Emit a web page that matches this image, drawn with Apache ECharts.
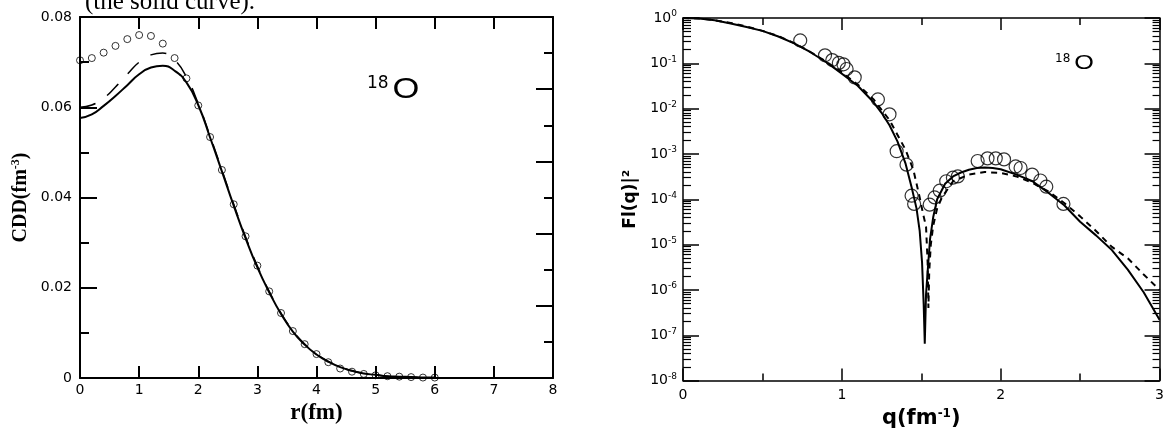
<!DOCTYPE html>
<html>
<head>
<meta charset="UTF-8">
<title>18O charge density and form factor</title>
<script src="https://cdn.jsdelivr.net/npm/echarts@6/dist/echarts.min.js"></script>
<style>
  html, body {margin: 0; width: 100%; height: 100%; background: #fff;}
  #chart {width: 1167px; height: 434px;}
</style>
</head>
<body>
<div id="chart"></div>
<script>
// left panel: charge density distribution vs r (fm)
const rValues = [0, 0.2, 0.4, 0.6, 0.8, 1.0, 1.2, 1.4, 1.6, 1.8, 2.0, 2.2, 2.4, 2.6, 2.8, 3.0,
  3.2, 3.4, 3.6, 3.8, 4.0, 4.2, 4.4, 4.6, 4.8, 5.0, 5.2, 5.4, 5.6, 5.8, 6.0];
const cddCircles = [0.0704, 0.0709, 0.0721, 0.0736, 0.0751, 0.0760, 0.0758, 0.0741, 0.0709, 0.0664,
  0.0604, 0.0534, 0.0461, 0.0385, 0.0314, 0.0249, 0.0192, 0.0144, 0.0104, 0.0075, 0.0053,
  0.0035, 0.0021, 0.0014, 0.0009, 0.0006, 0.0004, 0.0003, 0.0002, 0.0001, 0.0001];
const cddSolid = [0.0576, 0.0584, 0.0603, 0.0625, 0.0649, 0.0673, 0.0688, 0.0692, 0.0681, 0.0655,
  0.0605, 0.0533, 0.0458, 0.0382, 0.0310, 0.0245, 0.0190, 0.0142, 0.0103, 0.0074, 0.0052,
  0.0036, 0.0024, 0.0016, 0.0010, 0.0007, 0.0004, 0.0003, 0.0002, 0.0001, 0.0001];
const cddDashed = [0.0600, 0.0605, 0.0620, 0.0645, 0.0673, 0.0700, 0.0716, 0.0720, 0.0705, 0.0667,
  0.0608, 0.0536, 0.0461, 0.0385, 0.0313, 0.0248, 0.0192, 0.0144, 0.0105, 0.0075, 0.0053,
  0.0037, 0.0025, 0.0016, 0.0010, 0.0007, 0.0004, 0.0003, 0.0002, 0.0001, 0.0001];

// right panel: |F(q)|^2 vs q (fm^-1)
const qSolid = [0, 0.1, 0.2, 0.3, 0.4, 0.5, 0.6, 0.7, 0.8, 0.9, 1.0, 1.1, 1.2, 1.25, 1.3, 1.35,
  1.4, 1.44, 1.47, 1.49, 1.505, 1.515, 1.522, 1.53, 1.54, 1.555, 1.575, 1.6, 1.65, 1.7, 1.75,
  1.8, 1.85, 1.9, 1.95, 2.0, 2.1, 2.2, 2.3, 2.4, 2.5, 2.6, 2.7, 2.8, 2.9, 3.0];
const ffSolid = [1, 0.98, 0.89, 0.76, 0.63, 0.52, 0.39, 0.275, 0.178, 0.107, 0.059, 0.032,
  0.0138, 0.0081, 0.0043, 0.0019, 6.3e-4, 1.8e-4, 6.3e-5, 2e-5, 4e-6, 5e-7, 6.5e-8, 8e-7,
  2.5e-6, 1.3e-5, 4e-5, 1e-4, 2.2e-4, 3.2e-4, 3.9e-4, 4.5e-4, 4.9e-4, 5e-4, 4.9e-4, 4.6e-4,
  3.5e-4, 2.5e-4, 1.4e-4, 7.4e-5, 3.2e-5, 1.6e-5, 7.6e-6, 2.8e-6, 8.9e-7, 2.2e-7];
const qDashed = [0, 0.1, 0.2, 0.3, 0.4, 0.5, 0.6, 0.7, 0.8, 0.9, 1.0, 1.1, 1.2, 1.3, 1.4, 1.45,
  1.49, 1.51, 1.53, 1.54, 1.545, 1.55, 1.56, 1.575, 1.6, 1.63, 1.7, 1.8, 1.9, 2.0, 2.1, 2.2,
  2.3, 2.4, 2.5, 2.6, 2.7, 2.8, 2.9, 3.0];
const ffDashed = [1, 0.98, 0.89, 0.78, 0.65, 0.52, 0.40, 0.28, 0.18, 0.11, 0.063, 0.034, 0.016,
  0.0056, 1.26e-3, 4.5e-4, 1.1e-4, 5e-5, 2.5e-5, 4e-6, 4e-7, 2.5e-6, 1e-5, 2.6e-5, 6.3e-5,
  1.1e-4, 2.5e-4, 3.5e-4, 4e-4, 3.8e-4, 3.2e-4, 2.3e-4, 1.5e-4, 8.3e-5, 4.2e-5, 2e-5, 8.9e-6,
  5e-6, 2.2e-6, 1e-6];
const qExp = [0.738, 0.894, 0.94, 0.981, 1.01, 1.03, 1.081, 1.227, 1.30, 1.345, 1.407, 1.439,
  1.455, 1.553, 1.584, 1.616, 1.657, 1.699, 1.73, 1.855, 1.917, 1.969, 2.021, 2.094, 2.125,
  2.198, 2.25, 2.287, 2.395];
const ffExp = [0.32, 0.15, 0.118, 0.102, 0.095, 0.075, 0.049, 0.016, 0.0075, 1.15e-3, 5.8e-4,
  1.2e-4, 7.9e-5, 7.6e-5, 1.1e-4, 1.55e-4, 2.5e-4, 3e-4, 3.2e-4, 7e-4, 8e-4, 8e-4, 7.6e-4,
  5.3e-4, 4.9e-4, 3.5e-4, 2.6e-4, 1.9e-4, 7.9e-5];

function pairs(xs, ys) {
  return xs.map(function (x, i) { return [x, ys[i]]; });
}

const serif = '"Liberation Serif", "Times New Roman", serif';
const sans = '"Liberation Sans", Arial, sans-serif';
const wide = '"DejaVu Sans", sans-serif';

function frame(width) {
  return {
    onZero: false,
    lineStyle: {color: '#000', width: width}
  };
}
function ticks(len, width) {
  return {inside: true, length: len, lineStyle: {color: '#000', width: width}};
}

const chart = echarts.init(document.getElementById('chart'));
chart.setOption({
  animation: false,
  grid: [
    {left: 80, top: 17, width: 473, height: 361},
    {left: 683, top: 18, width: 480, height: 371}
  ],
  xAxis: [
    {
      gridIndex: 0, type: 'value', position: 'bottom', min: 0, max: 8, interval: 1,
      axisLine: frame(2), axisTick: ticks(12, 2), splitLine: {show: false},
      axisLabel: {margin: 5, color: '#000', fontSize: 14, fontFamily: wide},
      name: 'r(fm)', nameLocation: 'middle', nameGap: 22,
      nameTextStyle: {fontFamily: serif, fontWeight: 'bold', fontSize: 23, color: '#000'}
    },
    {
      gridIndex: 0, type: 'value', position: 'top', min: 0, max: 8, interval: 1,
      axisLine: frame(2), axisTick: ticks(12, 2), splitLine: {show: false},
      axisLabel: {show: false}
    },
    {
      gridIndex: 1, type: 'value', position: 'bottom', min: 0, max: 3, interval: 1,
      axisLine: frame(1.5), axisTick: ticks(12, 1.5), splitLine: {show: false},
      minorTick: {show: true, splitNumber: 2, length: 7, lineStyle: {color: '#000', width: 1.5}},
      axisLabel: {margin: 8, color: '#000', fontSize: 14, fontFamily: wide},
      name: '{a|q(fm}{s|-1}{a|)}', nameLocation: 'middle', nameGap: 17,
      nameTextStyle: {
        rich: {
          a: {fontFamily: wide, fontWeight: 'bold', fontSize: 21, color: '#000'},
          s: {fontFamily: wide, fontWeight: 'bold', fontSize: 12, color: '#000', padding: [0, 0, 10, 0]}
        }
      }
    },
    {
      gridIndex: 1, type: 'value', position: 'top', min: 0, max: 3, interval: 1,
      axisLine: frame(1.5), axisTick: ticks(12, 1.5), splitLine: {show: false},
      minorTick: {show: true, splitNumber: 2, length: 7, lineStyle: {color: '#000', width: 1.5}},
      axisLabel: {show: false}
    }
  ],
  yAxis: [
    {
      gridIndex: 0, type: 'value', position: 'left', min: 0, max: 0.08, interval: 0.02,
      axisLine: frame(2), axisTick: ticks(17, 2), splitLine: {show: false},
      minorTick: {show: true, splitNumber: 2, length: 9, lineStyle: {color: '#000', width: 2}},
      axisLabel: {
        margin: 8, color: '#000', fontSize: 14, fontFamily: wide,
        formatter: function (v) { return v === 0 ? '0' : v.toFixed(2); }
      },
      name: '{a|CDD(fm}{s|-3}{a|)}', nameLocation: 'middle', nameGap: 48, nameRotate: 90,
      nameTextStyle: {
        rich: {
          a: {fontFamily: serif, fontWeight: 'bold', fontSize: 20, color: '#000'},
          s: {fontFamily: serif, fontWeight: 'bold', fontSize: 12, color: '#000', padding: [0, 0, 10, 0]}
        }
      }
    },
    {
      gridIndex: 0, type: 'value', position: 'right', min: 0, max: 0.08, interval: 0.016,
      axisLine: frame(2), axisTick: ticks(17, 2), splitLine: {show: false},
      minorTick: {show: true, splitNumber: 2, length: 9, lineStyle: {color: '#000', width: 2}},
      axisLabel: {show: false}
    },
    {
      gridIndex: 1, type: 'log', logBase: 10, position: 'left', min: 1e-8, max: 1,
      axisLine: frame(1.5), axisTick: ticks(16, 1.5), splitLine: {show: false},
      minorTick: {show: true, splitNumber: 9, length: 8, lineStyle: {color: '#000', width: 1.2}},
      axisLabel: {
        margin: 6, color: '#000', fontFamily: wide,
        formatter: function (v) { return '{b|10}{s|' + Math.round(Math.log10(v)) + '}'; },
        rich: {
          b: {fontSize: 14, fontFamily: wide, color: '#000'},
          s: {fontSize: 9, fontFamily: wide, color: '#000', padding: [0, 0, 8, 0]}
        }
      },
      name: 'Fl(q)|²', nameLocation: 'middle', nameGap: 44, nameRotate: 90,
      nameTextStyle: {fontFamily: wide, fontWeight: 'bold', fontSize: 17, color: '#000'}
    },
    {
      gridIndex: 1, type: 'log', logBase: 10, position: 'right', min: 1e-8, max: 1,
      axisLine: frame(1.5), axisTick: ticks(15, 1.5), splitLine: {show: false},
      minorTick: {show: true, splitNumber: 9, length: 7, lineStyle: {color: '#000', width: 1.2}},
      axisLabel: {show: false}
    }
  ],
  series: [
    {
      name: 'solid', type: 'line', xAxisIndex: 0, yAxisIndex: 0, smooth: true,
      showSymbol: false, data: pairs(rValues, cddSolid),
      lineStyle: {color: '#000', width: 2}
    },
    {
      name: 'dashed', type: 'line', xAxisIndex: 0, yAxisIndex: 0, smooth: true,
      showSymbol: false, data: pairs(rValues, cddDashed),
      lineStyle: {color: '#000', width: 1.5, type: [16, 14]}
    },
    {
      name: 'points', type: 'scatter', xAxisIndex: 0, yAxisIndex: 0, z: 5,
      symbol: 'circle', symbolSize: 7, data: pairs(rValues, cddCircles),
      itemStyle: {color: 'rgba(0,0,0,0)', borderColor: '#000', borderWidth: 1}
    },
    {
      name: 'ff solid', type: 'line', xAxisIndex: 2, yAxisIndex: 2, smooth: false,
      showSymbol: false, data: pairs(qSolid, ffSolid),
      lineStyle: {color: '#000', width: 2}
    },
    {
      name: 'ff dashed', type: 'line', xAxisIndex: 2, yAxisIndex: 2, smooth: false,
      showSymbol: false, data: pairs(qDashed, ffDashed),
      lineStyle: {color: '#000', width: 2, type: [6, 5]}
    },
    {
      name: 'ff exp', type: 'scatter', xAxisIndex: 2, yAxisIndex: 2, z: 5,
      symbol: 'circle', symbolSize: 13, data: pairs(qExp, ffExp),
      itemStyle: {color: 'rgba(0,0,0,0)', borderColor: '#000', borderWidth: 1.2}
    }
  ],
  graphic: [
    {
      type: 'text', x: 85, y: 15,
      style: {text: '(the solid curve).', font: '25px ' + serif, fill: '#000', verticalAlign: 'bottom'}
    },
    {
      type: 'text', x: 367, y: 84,
      style: {text: '18', font: '17px ' + wide, fill: '#000', verticalAlign: 'middle'}
    },
    {
      type: 'text', x: 406, y: 90, scaleX: 1.15,
      style: {text: 'O', font: '30px ' + sans, fill: '#000', align: 'center', verticalAlign: 'middle'}
    },
    {
      type: 'text', x: 1055, y: 59,
      style: {text: '18', font: '12px ' + wide, fill: '#000', verticalAlign: 'middle'}
    },
    {
      type: 'text', x: 1084, y: 63, scaleX: 1.2,
      style: {text: 'O', font: '21px ' + sans, fill: '#000', align: 'center', verticalAlign: 'middle'}
    }
  ]
});
</script>
</body>
</html>
